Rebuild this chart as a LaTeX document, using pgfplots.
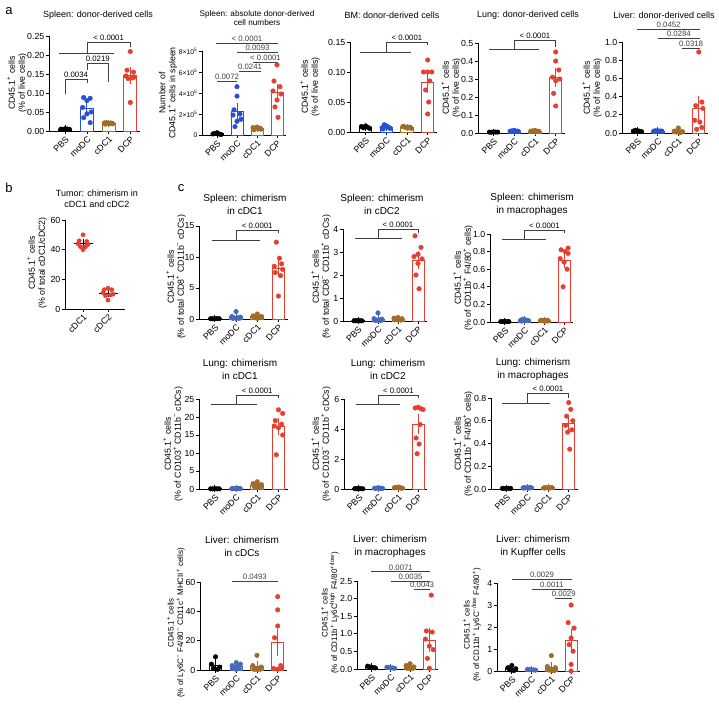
\documentclass[border=0pt]{standalone}
\usepackage{pgfplots}
\pgfplotsset{compat=1.18}
\usepackage{fontspec}
\setmainfont{Liberation Sans}

\definecolor{cPBS}{RGB}{0,0,0}
\definecolor{cMO}{RGB}{40,80,215}
\definecolor{cMOc}{RGB}{70,105,185}
\definecolor{cCa}{RGB}{160,108,40}
\definecolor{cDCP}{RGB}{230,62,48}

\newcommand{\tickf}{\fontsize{8.8}{10}\selectfont}
\newcommand{\labf}{\fontsize{8.8}{10}\selectfont}
\newcommand{\labs}{\fontsize{8}{9.5}\selectfont}
\newcommand{\titf}{\fontsize{9}{11}\selectfont}
\newcommand{\ctitf}{\fontsize{10}{13}\selectfont}
\newcommand{\pvf}{\fontsize{7.8}{9}\selectfont}

\tikzset{brk/.style={line width=0.8pt, black!75}, pv/.style={anchor=south, inner sep=1pt, font=\pvf}}

\pgfplotsset{prism/.style={
  scale only axis, anchor=south west, clip=false,
  axis lines*=left, axis line style={-, line width=0.8pt},
  tick align=outside, major tick length=3pt, tick style={line width=0.8pt, black},
  xtick={0,1,2,3}, xticklabels={PBS,moDC,cDC1,DCP},
  xmin=-0.75, xmax=3.45, ymin=0, scaled y ticks=false,
  xticklabel style={font=\tickf, rotate=45, anchor=north east, inner sep=1pt},
  yticklabel style={font=\tickf, inner sep=1.5pt},
}}

\newcommand{\grp}[5]{%
\addplot[ybar, bar shift=0pt, bar width=0.6, draw=#2, fill=white, line width=0.9pt, forget plot] coordinates {(#1,#3)};
\addplot[only marks, mark=*, mark size=2.3pt, draw=#2, fill=#2, forget plot] coordinates {#5};
\addplot[#2, line width=0.9pt, mark=none, forget plot, error bars/.cd, y dir=both, y explicit, error bar style={line width=0.9pt}, error mark options={line width=0.9pt, mark size=3.5pt}] coordinates {(#1,#3) +- (0,#4)};
}
% combined bracket: xl xr L1 xm L2 xd L3 xtext label
\newcommand{\comb}[9]{%
\draw[brk] (axis cs:#1,#3) -- (axis cs:#2,#3);
\draw[brk] (axis cs:#4,#3) -- (axis cs:#4,#5) -- (axis cs:#6,#5) -- (axis cs:#6,#7);
\node[pv] at (axis cs:#8,#5) {#9};
}
% legs bracket: x1 y1 x2 y2 ytop xtext label
\newcommand{\legs}[7]{%
\draw[brk] (axis cs:#1,#2) -- (axis cs:#1,#5) -- (axis cs:#3,#5) -- (axis cs:#3,#4);
\node[pv] at (axis cs:#6,#5) {#7};
}
\newcommand{\pline}[4]{%
\draw[brk] (axis cs:#1,#3) -- node[pv, midway] {#4} (axis cs:#2,#3);
}

\begin{document}
\begin{tikzpicture}
\useasboundingbox (0pt,0pt) rectangle (719pt,703pt);
\fill[white] (0pt,0pt) rectangle (719pt,703pt);

% ---------- a1 ----------
\begin{axis}[prism, at={(49pt,572pt)}, width=91pt, height=95pt, ymax=0.25,
  ytick={0,0.05,0.1,0.15,0.2,0.25}, yticklabels={0.00,0.05,0.10,0.15,0.20,0.25}]
\grp{0}{cPBS}{0.005}{0.0004}{(-0.2,0.005) (-0.1,0.004) (0,0.006) (0.1,0.005) (0.2,0.004)}
\grp{1}{cMO}{0.0585}{0.009}{(0.85,0.088) (1.15,0.086) (1,0.080) (0.8,0.062) (1.2,0.050) (1,0.045) (0.85,0.035) (1.15,0.022)}
\grp{2}{cCa}{0.020}{0.0008}{(1.8,0.021) (1.9,0.022) (2,0.020) (2.1,0.021) (2.2,0.019) (1.85,0.018) (2.05,0.019) (2.15,0.020)}
\grp{3}{cDCP}{0.1455}{0.013}{(3,0.209) (2.85,0.160) (3.15,0.155) (2.8,0.145) (3.2,0.142) (2.9,0.138) (3.1,0.140) (3,0.075)}
\comb{-0.3}{2.25}{0.205}{1}{0.234}{3}{0.221}{2}{< 0.0001}
\legs{0}{0.097}{1}{0.126}{0.137}{0.5}{0.0034}
\legs{1}{0.160}{2}{0.129}{0.179}{1.5}{0.0219}
\end{axis}

% ---------- a2 ----------
\begin{axis}[prism, at={(202pt,568pt)}, width=84pt, height=84pt, ymax=8,
  ytick={0,2,4,6,8}, yticklabels={0,2×10\textsuperscript{5},4×10\textsuperscript{5},6×10\textsuperscript{5},8×10\textsuperscript{5}},
  yticklabel style={font=\fontsize{6.8}{7.5}\selectfont}]
\grp{0}{cPBS}{0.12}{0.03}{(-0.2,0.1) (-0.1,0.15) (0,0.2) (0.1,0.1) (0.2,0.05)}
\grp{1}{cMO}{2.28}{0.42}{(1,4.6) (1,3.7) (0.85,2.4) (1.15,2.0) (0.8,1.9) (1.2,1.5) (1,1.3) (0.9,0.8)}
\grp{2}{cCa}{0.62}{0.03}{(1.8,0.7) (1.9,0.65) (2,0.75) (2.1,0.6) (2.2,0.55) (1.85,0.5) (2.05,0.6) (2.15,0.65)}
\grp{3}{cDCP}{4.02}{0.55}{(3,6.67) (2.85,5.14) (3.15,4.6) (2.8,4.19) (3.2,3.9) (3,3.33) (2.9,2.67) (3.05,1.68)}
\pline{-0.05}{3.05}{8.76}{< 0.0001}
\pline{1}{3.05}{7.9}{0.0093}
\pline{1.8}{3.05}{6.95}{< 0.0001}
\pline{1.1}{2.2}{6.1}{0.0241}
\pline{0}{1}{5.14}{0.0072}
\end{axis}

% ---------- a3 ----------
\begin{axis}[prism, at={(350pt,571pt)}, width=87pt, height=90pt, ymax=0.15,
  ytick={0,0.05,0.1,0.15}, yticklabels={0.00,0.05,0.10,0.15}]
\grp{0}{cPBS}{0.008}{0.0007}{(-0.2,0.009) (-0.1,0.007) (0,0.010) (0.1,0.008) (0.2,0.006)}
\grp{1}{cMO}{0.008}{0.0008}{(0.8,0.007) (0.9,0.012) (1,0.010) (1.1,0.008) (1.2,0.006) (0.85,0.005) (1.05,0.009) (1.15,0.007)}
\grp{2}{cCa}{0.0078}{0.0004}{(1.8,0.009) (1.9,0.008) (2,0.007) (2.1,0.008) (2.2,0.006) (1.85,0.009) (2.05,0.007) (2.15,0.008)}
\grp{3}{cDCP}{0.082}{0.011}{(3,0.12) (2.8,0.10) (3,0.10) (3.2,0.10) (3.1,0.085) (2.9,0.07) (3.05,0.05) (3,0.03)}
\comb{-0.25}{2.2}{0.1333}{1}{0.15}{3}{0.145}{2}{< 0.0001}
\end{axis}

% ---------- a4 ----------
\begin{axis}[prism, at={(478pt,570pt)}, width=87pt, height=90pt, ymax=0.5,
  ytick={0,0.1,0.2,0.3,0.4,0.5}, yticklabels={0.0,0.1,0.2,0.3,0.4,0.5}]
\grp{0}{cPBS}{0.005}{0.0005}{(-0.2,0.005) (-0.1,0.004) (0,0.006) (0.1,0.005) (0.2,0.005)}
\grp{1}{cMO}{0.010}{0.001}{(0.8,0.010) (0.9,0.012) (1,0.014) (1.1,0.009) (1.2,0.008) (0.85,0.007) (1.05,0.011) (1.15,0.010)}
\grp{2}{cCa}{0.010}{0.001}{(1.8,0.010) (1.9,0.012) (2,0.013) (2.1,0.009) (2.2,0.008) (1.85,0.009) (2.05,0.011) (2.15,0.010)}
\grp{3}{cDCP}{0.309}{0.034}{(3,0.45) (3,0.40) (3.15,0.35) (2.85,0.31) (3.2,0.30) (3,0.29) (2.9,0.22) (3,0.15)}
\comb{-0.2}{2.2}{0.467}{1}{0.517}{3}{0.478}{2}{< 0.0001}
\end{axis}

% ---------- a5 ----------
\begin{axis}[prism, at={(622pt,570pt)}, width=86pt, height=91pt, ymax=1.0,
  ytick={0,0.2,0.4,0.6,0.8,1.0}, yticklabels={0.0,0.2,0.4,0.6,0.8,1.0}]
\grp{0}{cPBS}{0.022}{0.003}{(-0.2,0.02) (-0.1,0.03) (0,0.025) (0.1,0.02) (0.2,0.015)}
\grp{1}{cMO}{0.020}{0.002}{(0.8,0.02) (0.9,0.025) (1,0.02) (1.1,0.018) (1.2,0.02) (0.85,0.015) (1.05,0.022) (1.15,0.02)}
\grp{2}{cCa}{0.018}{0.005}{(2,0.055) (1.8,0.02) (2.2,0.015) (1.9,0.01) (2.1,0.01) (1.85,0.02) (2.05,0.005) (2.15,0.01)}
\grp{3}{cDCP}{0.27}{0.10}{(3,0.89) (3.15,0.34) (2.85,0.30) (3.2,0.27) (2.8,0.14) (3.05,0.12) (3.15,0.06) (2.9,0.04)}
\pline{0}{3.05}{1.143}{0.0452}
\pline{1}{3.05}{1.044}{0.0284}
\pline{2.2}{3.05}{0.934}{0.0318}
\end{axis}

% ---------- b ----------
\begin{axis}[prism, at={(65pt,394pt)}, width=60pt, height=89pt, ymax=60,
  xmin=-0.72, xmax=1.68, xtick={0,1}, xticklabels={cDC1,cDC2},
  ytick={0,20,40,60}, yticklabels={0,20,40,60}]
\addplot[only marks, mark=*, mark size=2.1pt, draw=cDCP, fill=cDCP] coordinates {(0,50) (-0.15,46) (0.15,45.5) (-0.2,44) (0.2,43.5) (-0.1,42) (0.1,42) (0,40)};
\addplot[only marks, mark=*, mark size=2.1pt, draw=cDCP, fill=cDCP] coordinates {(1,14) (0.85,13) (1.15,13) (0.8,11) (1.2,10) (0.9,9) (1.1,9.5) (1,6)};
\addplot[black, line width=0.9pt] coordinates {(-0.38,44.1) (0.38,44.1)};
\addplot[black, line width=0.9pt] coordinates {(0.62,10.7) (1.38,10.7)};
\addplot[black, line width=0.9pt, mark=none, error bars/.cd, y dir=both, y explicit, error bar style={line width=0.9pt}, error mark options={line width=0.9pt, mark size=2.5pt}] coordinates {(0,44.1) +- (0,1.1)};
\addplot[black, line width=0.9pt, mark=none, error bars/.cd, y dir=both, y explicit, error bar style={line width=0.9pt}, error mark options={line width=0.9pt, mark size=2.5pt}] coordinates {(1,10.7) +- (0,0.95)};
\end{axis}

% ---------- c1 ----------
\begin{axis}[prism, at={(199pt,384pt)}, width=89pt, height=93pt, ymax=15,
  ytick={0,5,10,15}, yticklabels={0,5,10,15}]
\grp{0}{cPBS}{0.05}{0.005}{(-0.2,0.05) (-0.1,0.04) (0,0.06) (0.1,0.05) (0.2,0.05)}
\grp{1}{cMOc}{0.33}{0.13}{(1,1.2) (0.8,0.4) (1.2,0.3) (0.9,0.2) (1.1,0.2) (0.85,0.1) (1.15,0.1) (1,0.1)}
\grp{2}{cCa}{0.35}{0.08}{(2,0.8) (1.8,0.5) (2.2,0.4) (1.9,0.3) (2.1,0.3) (1.85,0.2) (2.15,0.2) (2,0.1)}
\grp{3}{cDCP}{8.2}{0.9}{(2.9,12.4) (3.05,9.8) (3.15,8.9) (2.8,8.5) (3.2,8.0) (2.85,7.5) (3.1,7.0) (3,3.7)}
\comb{-0.15}{2.15}{12.74}{1}{14.35}{3}{13.87}{2}{< 0.0001}
\end{axis}

% ---------- c2 ----------
\begin{axis}[prism, at={(343pt,382pt)}, width=84pt, height=92pt, ymax=4,
  ytick={0,1,2,3,4}, yticklabels={0,1,2,3,4}]
\grp{0}{cPBS}{0.01}{0.002}{(-0.2,0.01) (-0.1,0.01) (0,0.012) (0.1,0.01) (0.2,0.008)}
\grp{1}{cMOc}{0.0875}{0.04}{(1,0.35) (0.8,0.1) (1.2,0.08) (0.9,0.05) (1.1,0.05) (0.85,0.03) (1.15,0.02) (1,0.02)}
\grp{2}{cCa}{0.08}{0.014}{(2,0.15) (1.8,0.12) (2.2,0.1) (1.9,0.08) (2.1,0.06) (1.85,0.05) (2.15,0.04) (2,0.04)}
\grp{3}{cDCP}{2.65}{0.25}{(2.85,3.7) (3.15,3.2) (3,2.9) (2.8,2.8) (3.2,2.7) (3,2.5) (2.9,2.0) (3.05,1.4)}
\comb{-0.15}{2.2}{3.57}{1}{4.0}{3}{3.83}{2}{< 0.0001}
\end{axis}

% ---------- c3 ----------
\begin{axis}[prism, at={(490pt,381pt)}, width=83pt, height=88pt, ymax=1.0,
  ytick={0,0.2,0.4,0.6,0.8,1.0}, yticklabels={0.0,0.2,0.4,0.6,0.8,1.0}]
\grp{0}{cPBS}{0.005}{0.001}{(-0.2,0.005) (-0.1,0.004) (0,0.006) (0.1,0.005) (0.2,0.005)}
\grp{1}{cMOc}{0.02}{0.003}{(0.8,0.02) (0.9,0.03) (1,0.025) (1.1,0.02) (1.2,0.015) (0.85,0.01) (1.05,0.02) (1.15,0.015)}
\grp{2}{cCa}{0.015}{0.002}{(1.8,0.015) (1.9,0.02) (2,0.01) (2.1,0.015) (2.2,0.012) (1.85,0.018) (2.05,0.01) (2.15,0.02)}
\grp{3}{cDCP}{0.70}{0.05}{(3.2,0.84) (2.85,0.82) (3.05,0.80) (3.2,0.78) (2.8,0.72) (3,0.68) (3.15,0.60) (2.95,0.40)}
\comb{-0.15}{2.1}{0.943}{1}{1.045}{3}{1.011}{2}{< 0.0001}
\end{axis}

% ---------- c4 ----------
\begin{axis}[prism, at={(199pt,214pt)}, width=89pt, height=90pt, ymax=25,
  ytick={0,5,10,15,20,25}, yticklabels={0,5,10,15,20,25}]
\grp{0}{cPBS}{0.05}{0.005}{(-0.2,0.05) (-0.1,0.04) (0,0.06) (0.1,0.05) (0.2,0.05)}
\grp{1}{cMOc}{0.1}{0.01}{(0.8,0.1) (0.9,0.12) (1,0.1) (1.1,0.09) (1.2,0.1) (0.85,0.08) (1.05,0.11) (1.15,0.1)}
\grp{2}{cCa}{1.03}{0.2}{(2,2.0) (1.8,1.5) (2.2,1.2) (1.9,1.0) (2.1,0.9) (1.85,0.7) (2.15,0.5) (2,0.4)}
\grp{3}{cDCP}{17.4}{1.35}{(3,22) (3.2,21) (2.85,19) (3.15,18) (2.8,17.5) (3,17) (3.2,15) (2.9,9.5)}
\comb{-0.2}{2.0}{23.6}{1}{26.1}{3}{25.3}{2}{< 0.0001}
\end{axis}

% ---------- c5 ----------
\begin{axis}[prism, at={(344pt,214pt)}, width=83pt, height=90pt, ymax=6,
  ytick={0,2,4,6}, yticklabels={0,2,4,6}]
\grp{0}{cPBS}{0.02}{0.003}{(-0.2,0.02) (-0.1,0.02) (0,0.025) (0.1,0.02) (0.2,0.015)}
\grp{1}{cMOc}{0.05}{0.006}{(0.8,0.05) (0.9,0.06) (1,0.07) (1.1,0.05) (1.2,0.04) (0.85,0.04) (1.05,0.05) (1.15,0.04)}
\grp{2}{cCa}{0.08}{0.008}{(1.8,0.08) (1.9,0.1) (2,0.09) (2.1,0.07) (2.2,0.06) (1.85,0.08) (2.05,0.1) (2.15,0.06)}
\grp{3}{cDCP}{4.32}{0.45}{(2.85,5.4) (3,5.45) (3.15,5.35) (3.25,5.3) (3.1,4.3) (2.9,3.4) (3.05,3.0) (2.95,2.35)}
\comb{-0.15}{2.1}{5.67}{1}{6.27}{3}{6.07}{2}{< 0.0001}
\end{axis}

% ---------- c6 ----------
\begin{axis}[prism, at={(491pt,214pt)}, width=87pt, height=91pt, ymax=0.8,
  ytick={0,0.2,0.4,0.6,0.8}, yticklabels={0.0,0.2,0.4,0.6,0.8}]
\grp{0}{cPBS}{0.005}{0.001}{(-0.2,0.005) (-0.1,0.004) (0,0.006) (0.1,0.005) (0.2,0.005)}
\grp{1}{cMOc}{0.01}{0.001}{(0.8,0.01) (0.9,0.012) (1,0.01) (1.1,0.009) (1.2,0.011) (0.85,0.008) (1.05,0.01) (1.15,0.012)}
\grp{2}{cCa}{0.01}{0.001}{(1.8,0.01) (1.9,0.012) (2,0.01) (2.1,0.009) (2.2,0.011) (1.85,0.008) (2.05,0.01) (2.15,0.012)}
\grp{3}{cDCP}{0.579}{0.045}{(3,0.76) (3.1,0.70) (2.9,0.64) (3.2,0.60) (2.85,0.56) (3.15,0.52) (2.95,0.50) (3.05,0.35)}
\comb{-0.2}{2.1}{0.756}{1}{0.844}{3}{0.80}{2}{< 0.0001}
\end{axis}

% ---------- c7 ----------
\begin{axis}[prism, at={(200pt,33pt)}, width=87pt, height=88pt, ymax=60,
  ytick={0,20,40,60}, yticklabels={0,20,40,60}]
\grp{0}{cPBS}{3.3}{1.6}{(0,9) (-0.2,4) (0.2,2) (-0.1,1) (0.1,0.5)}
\grp{1}{cMOc}{2.3}{0.55}{(1,5) (1.2,4) (0.8,3) (0.9,2) (1.1,2) (0.85,1) (1.15,1) (1,0.5)}
\grp{2}{cCa}{2.3}{1.15}{(2,10) (1.8,3) (2.2,2) (1.9,1) (2.1,1) (1.85,0.5) (2.15,0.5) (2,0.2)}
\grp{3}{cDCP}{18.6}{7.0}{(3,50) (3,41) (3,30) (2.85,22) (3.15,3) (2.8,1) (3.2,1.5) (3,0.5)}
\pline{0.8}{3.0}{60.7}{0.0493}
\end{axis}

% ---------- c8 ----------
\begin{axis}[prism, at={(357pt,34pt)}, width=81pt, height=88pt, ymax=2.5,
  ytick={0,0.5,1,1.5,2,2.5}, yticklabels={0.0,0.5,1.0,1.5,2.0,2.5}]
\grp{0}{cPBS}{0.05}{0.008}{(-0.2,0.08) (-0.1,0.06) (0,0.05) (0.1,0.04) (0.2,0.03)}
\grp{1}{cMOc}{0.034}{0.005}{(0.8,0.05) (0.9,0.04) (1,0.03) (1.1,0.03) (1.2,0.02)}
\grp{2}{cCa}{0.054}{0.017}{(2,0.15) (1.8,0.1) (2.2,0.06) (1.9,0.04) (2.1,0.03) (1.85,0.02) (2.15,0.02) (2,0.01)}
\grp{3}{cDCP}{0.825}{0.23}{(3.1,2.1) (2.85,1.08) (3.15,1.05) (2.8,0.85) (3,0.65) (3.2,0.55) (2.9,0.3) (3,0.02)}
\pline{0}{3.05}{2.76}{0.0071}
\pline{1}{3.05}{2.5}{0.0035}
\pline{2.2}{3.05}{2.26}{0.0043}
\end{axis}

% ---------- c9 ----------
\begin{axis}[prism, at={(497pt,32pt)}, width=83pt, height=88pt, ymax=4,
  ytick={0,1,2,3,4}, yticklabels={0,1,2,3,4}]
\grp{0}{cPBS}{0.11}{0.045}{(0,0.25) (-0.2,0.15) (0.2,0.1) (-0.1,0.05) (0.1,0.02)}
\grp{1}{cMOc}{0.056}{0.007}{(0.8,0.08) (0.9,0.06) (1,0.05) (1.1,0.05) (1.2,0.04)}
\grp{2}{cCa}{0.16}{0.08}{(2,0.7) (1.8,0.2) (2.2,0.15) (1.9,0.1) (2.1,0.05) (1.85,0.05) (2.15,0.02) (2,0.01)}
\grp{3}{cDCP}{1.38}{0.35}{(3,3.0) (2.85,2.2) (3.15,1.95) (3,1.5) (2.9,1.2) (3.1,0.9) (3,0.3) (3,0.0)}
\pline{0}{3.05}{4.18}{0.0029}
\pline{1}{3.05}{3.73}{0.0011}
\pline{2.2}{3.05}{3.32}{0.0029}
\end{axis}

% ---------- titles ----------
\node[font=\titf] at (98pt,688pt) {Spleen: donor-derived cells};
\node[font=\fontsize{8.2}{8.6}\selectfont, align=center] at (257pt,685pt) {Spleen: absolute donor-derived\\cell numbers};
\node[font=\titf] at (392pt,688pt) {BM: donor-derived cells};
\node[font=\titf] at (528pt,688pt) {Lung: donor-derived cells};
\node[font=\titf] at (664pt,688pt) {Liver: donor-derived cells};
\node[font=\titf, align=center] at (97pt,504pt) {Tumor: chimerism in\\cDC1 and cDC2};
\node[font=\ctitf, align=center] at (245pt,499pt) {Spleen: chimerism\\in cDC1};
\node[font=\ctitf, align=center] at (382pt,499pt) {Spleen: chimerism\\in cDC2};
\node[font=\ctitf, align=center] at (532pt,499pt) {Spleen: chimerism\\in macrophages};
\node[font=\ctitf, align=center] at (240pt,334pt) {Lung: chimerism\\in cDC1};
\node[font=\ctitf, align=center] at (388pt,334pt) {Lung: chimerism\\in cDC2};
\node[font=\ctitf, align=center] at (533pt,334pt) {Lung: chimerism\\in macrophages};
\node[font=\ctitf, align=center] at (242pt,157pt) {Liver: chimerism\\in cDCs};
\node[font=\ctitf, align=center] at (390pt,157pt) {Liver: chimerism\\in macrophages};
\node[font=\ctitf, align=center] at (533pt,157pt) {Liver: chimerism\\in Kupffer cells};

% ---------- y labels ----------
\tikzset{yl/.style={rotate=90, align=center, font=\labf, inner sep=0pt}}
\node[yl] at (17pt,620pt) {CD45.1\textsuperscript{+} cells\\(\% of live cells)};
\node[yl] at (168pt,610pt) {Number of\\CD45.1\textsuperscript{+} cells in spleen};
\node[yl] at (310pt,616pt) {CD45.1\textsuperscript{+} cells\\(\% of live cells)};
\node[yl] at (451pt,615pt) {CD45.1\textsuperscript{+} cells\\(\% of live cells)};
\node[yl] at (592pt,615pt) {CD45.1\textsuperscript{+} cells\\(\% of live cells)};
\node[yl] at (37pt,440pt) {CD45.1\textsuperscript{+} cells\\(\% of total cDC1/cDC2)};
\node[yl] at (176pt,426pt) {CD45.1\textsuperscript{+} cells\\(\% of total CD8\textsuperscript{+} CD11b\textsuperscript{−} cDCs)};
\node[yl] at (321pt,426pt) {CD45.1\textsuperscript{+} cells\\(\% of total CD8\textsuperscript{−} CD11b\textsuperscript{+} cDCs)};
\node[yl] at (463pt,425pt) {CD45.1\textsuperscript{+} cells\\(\% of CD11b\textsuperscript{+} F4/80\textsuperscript{+} cells)};
\node[yl] at (173pt,259pt) {CD45.1\textsuperscript{+} cells\\(\% of CD103\textsuperscript{+} CD11b\textsuperscript{−} cDCs)};
\node[yl] at (321pt,259pt) {CD45.1\textsuperscript{+} cells\\(\% of CD103\textsuperscript{−} CD11b\textsuperscript{+} cDCs)};
\node[yl] at (463pt,259pt) {CD45.1\textsuperscript{+} cells\\(\% of CD11b\textsuperscript{+} F4/80\textsuperscript{+} cells)};
\node[yl, font=\labs] at (176pt,80pt) {CD45.1\textsuperscript{+} cells\\(\% of Ly6C\textsuperscript{−} F4/80\textsuperscript{−} CD11c\textsuperscript{+} MHCII\textsuperscript{+} cells)};
\node[yl, font=\labs] at (330pt,90pt) {CD45.1\textsuperscript{+} cells\\(\% of CD11b\textsuperscript{+} Ly6C\textsuperscript{high} F4/80\textsuperscript{+/low})};
\node[yl, font=\labs] at (472pt,78pt) {CD45.1\textsuperscript{+} cells\\(\% of CD11b\textsuperscript{+} Ly6C\textsuperscript{−/low} F4/80\textsuperscript{+})};

% ---------- panel letters ----------
\node[font=\fontsize{13}{15}\selectfont] at (9pt,692pt) {a};
\node[font=\fontsize{13}{15}\selectfont] at (9pt,515pt) {b};
\node[font=\fontsize{13}{15}\selectfont] at (181pt,515pt) {c};
\end{tikzpicture}
\end{document}
